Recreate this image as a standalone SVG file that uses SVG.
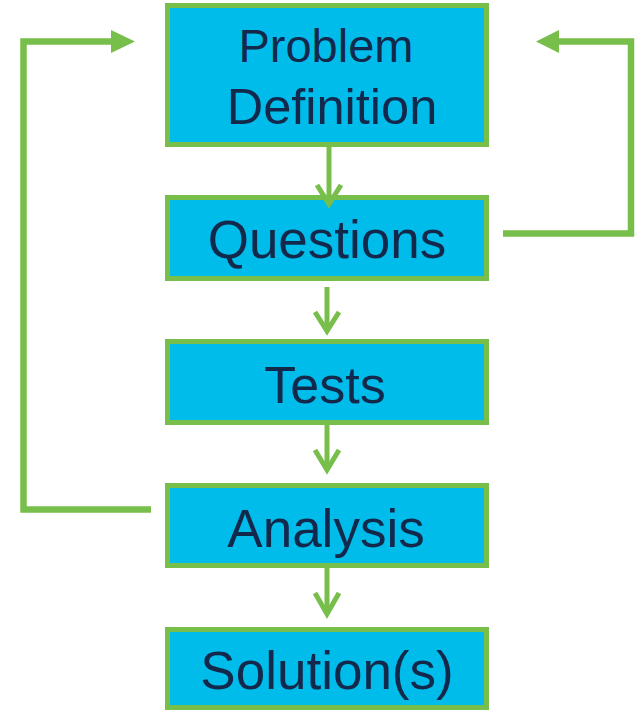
<svg xmlns="http://www.w3.org/2000/svg" width="635" height="711" viewBox="0 0 635 711">
  <style>
    .box { fill: #00BCEB; stroke: #78BE4B; stroke-width: 5; }
    .lbl { font-family: "Liberation Sans", Arial, sans-serif; fill: #13294B; text-anchor: middle; }
    .flow { fill: none; stroke: #78BE4B; stroke-width: 5; }
    .fb { fill: none; stroke: #78BE4B; stroke-width: 6.5; stroke-linejoin: miter; }
    .head { fill: #78BE4B; }
  </style>
  <rect width="635" height="711" fill="#FFFFFF"/>
  <g id="problem-definition">
    <rect class="box" x="167.5" y="5.5" width="319" height="139"/>
    <text class="lbl" x="326" y="62" font-size="47">Problem</text>
    <text class="lbl" x="332" y="123.5" font-size="50.5">Definition</text>
  </g>
  <g id="questions">
    <rect class="box" x="167.5" y="197.5" width="319" height="81"/>
    <text class="lbl" x="327" y="257.5" font-size="53">Questions</text>
  </g>
  <g id="tests">
    <rect class="box" x="167.5" y="341.5" width="319" height="81"/>
    <text class="lbl" x="325" y="402.5" font-size="52">Tests</text>
  </g>
  <g id="analysis">
    <rect class="box" x="167.5" y="485.5" width="319" height="80"/>
    <text class="lbl" x="326" y="546.5" font-size="53">Analysis</text>
  </g>
  <g id="solutions">
    <rect class="box" x="167.5" y="629.5" width="319" height="78"/>
    <text class="lbl" x="327" y="688.5" font-size="53">Solution(s)</text>
  </g>
  <g id="connectors">
    <line class="flow" x1="329" y1="147" x2="329" y2="204"/>
    <polyline class="flow" points="317,185 329,204 341,185"/>
    <line class="flow" x1="327" y1="287" x2="327" y2="331"/>
    <polyline class="flow" points="315,312 327,331 339,312"/>
    <line class="flow" x1="327" y1="425" x2="327" y2="470"/>
    <polyline class="flow" points="315,450 327,470 339,450"/>
    <line class="flow" x1="327" y1="568" x2="327" y2="614"/>
    <polyline class="flow" points="315,593 327,614 339,593"/>
    <polyline class="fb" points="151,509.5 23.5,509.5 23.5,41.5 112,41.5"/>
    <polygon class="head" points="111,30 135,41.5 111,53"/>
    <polyline class="fb" points="503,233.5 631,233.5 631,41.5 558,41.5"/>
    <polygon class="head" points="559,30 536,41.5 559,53"/>
  </g>
</svg>
